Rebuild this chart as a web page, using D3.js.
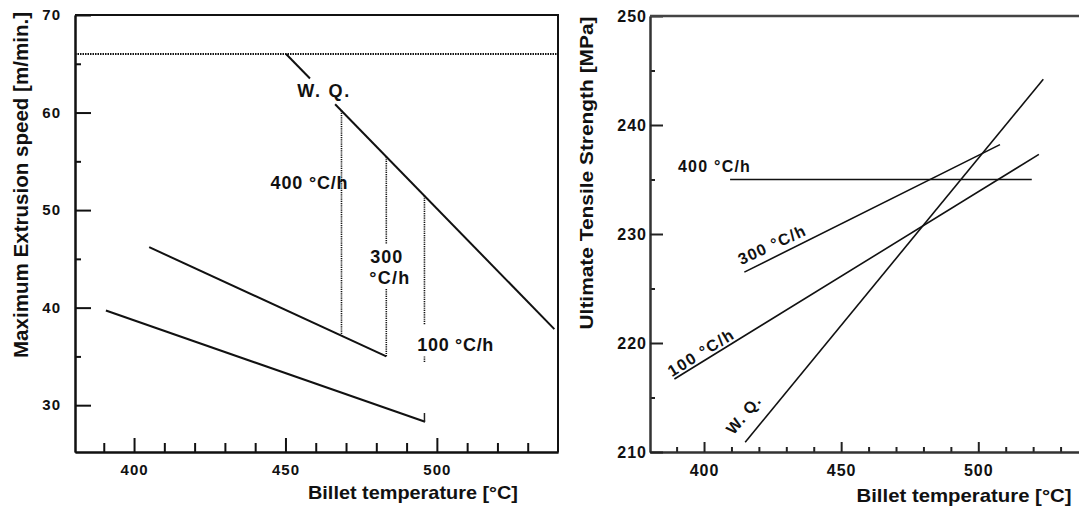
<!DOCTYPE html>
<html>
<head>
<meta charset="utf-8">
<script src="https://cdn.jsdelivr.net/npm/d3@7"></script>
<style>
  body { margin: 0; background: #fff; }
  svg { display: block; font-family: "Liberation Sans", Arial, sans-serif; }
  .axis text { font-weight: bold; fill: #111; }
  .axis-label { font-weight: bold; fill: #111; }
  .note { fill: #111; }
</style>
</head>
<body>
<svg id="chart"></svg>
<script>
// ---- data ----

// left panel: max extrusion speed vs billet temperature
const speedXTicks = [400, 450, 500];
const speedXMinor = [390, 410, 420, 430, 440, 460, 470, 480, 490, 510, 520, 530];
const speedYTicks = [30, 40, 50, 60, 70];
const speedYMinor = [35, 45, 55, 65];
const speedLimit = 66;                                  // dotted press limit
const speedWQ = [[450.2, 66.0], [538.8, 37.8]];         // W.Q. line
const speedWQGap = [458.1, 466.4];                      // break for the label
const speedLineA = [[405.0, 46.2], [483.3, 35.0]];
const speedLineB = [[390.7, 39.7], [496.1, 28.3]];
// vertical dotted drops: [temperature, from, to]
const speedDrops = [
  [468.5, 60.2, 37.1],
  [483.3, 55.5, 46.5],
  [483.3, 41.9, 35.0],
  [495.9, 51.5, 38.3],
  [495.9, 35.0, 34.4]
];
const speedEndMark = [495.9, 29.2, 28.3];
const speedNotes = [
  { text: "W. Q.", x: 462.5, y: 62.2, size: 18, len: 52 },
  { text: "400 °C/h", x: 457.8, y: 52.8, size: 18, len: 77 },
  { text: "300", x: 483.3, y: 45.2, size: 18, len: 32 },
  { text: "°C/h", x: 484.3, y: 43.1, size: 18, len: 40 },
  { text: "100 °C/h", x: 506.1, y: 36.2, size: 18, len: 76 }
];

// right panel: ultimate tensile strength vs billet temperature
const utsXTicks = [400, 450, 500];
const utsXMinor = [390, 410, 420, 430, 440, 460, 470, 480, 490, 510, 520, 530];
const utsYTicks = [210, 220, 230, 240, 250];
const utsYMinor = [215, 225, 235, 245];
const uts400 = [[409.5, 235.0], [519.5, 235.0]];
const uts300 = [[414.7, 226.5], [507.9, 238.2]];
const uts100 = [[389.2, 216.7], [522.1, 237.3]];
const utsWQ  = [[415.0, 210.9], [523.7, 244.2]];
const utsNotes = [
  { text: "400 °C/h", x: 403.6, y: 236.2, angle: 0, size: 16, len: 72 },
  { text: "300 °C/h", x: 424.6, y: 229.0, angle: -25, size: 16, len: 72 },
  { text: "100 °C/h", x: 398.7, y: 219.1, angle: -32, size: 16, len: 74 },
  { text: "W. Q.", x: 414.3, y: 213.4, angle: -50, size: 16, len: 44 }
];

const W = 1079, H = 506;
const svg = d3.select("#chart").attr("width", W).attr("height", H);

// ---------------- left panel ----------------
const xL = d3.scaleLinear().domain([380.5, 540]).range([75, 558]);
const yL = d3.scaleLinear().domain([25.2, 70]).range([452, 15]);
const left = svg.append("g");

function styleAxis(g, width) {
  g.attr("class", "axis");
  g.select(".domain").attr("stroke", "#111").attr("stroke-width", width);
  g.selectAll(".tick line").attr("stroke", "#111").attr("stroke-width", width);
}

left.append("g")
  .attr("transform", `translate(0,${yL.range()[0]})`)
  .call(d3.axisBottom(xL).tickValues(speedXMinor).tickSize(-9).tickSizeOuter(0).tickFormat(""))
  .call(g => styleAxis(g, 2));
left.append("g")
  .attr("transform", `translate(0,${yL.range()[0]})`)
  .call(d3.axisBottom(xL).tickValues(speedXTicks).tickSize(-14).tickSizeOuter(0).tickPadding(12))
  .call(g => styleAxis(g, 2))
  .selectAll("text").style("font-size", "15px").attr("letter-spacing", "1");

left.append("g")
  .attr("transform", `translate(${xL.range()[0]},0)`)
  .call(d3.axisLeft(yL).tickValues(speedYMinor).tickSize(-6).tickSizeOuter(0).tickFormat(""))
  .call(g => styleAxis(g, 2));
left.append("g")
  .attr("transform", `translate(${xL.range()[0]},0)`)
  .call(d3.axisLeft(yL).tickValues(speedYTicks).tickSize(-16).tickSizeOuter(0).tickPadding(14))
  .call(g => styleAxis(g, 2))
  .selectAll("text").style("font-size", "15px").attr("letter-spacing", "1");

// top and right frame
left.append("path")
  .attr("d", `M${xL.range()[0]},${yL.range()[1]}H${xL.range()[1]}V${yL.range()[0]}`)
  .attr("fill", "none").attr("stroke", "#111").attr("stroke-width", 2);

const lineL = d3.line().x(d => xL(d[0])).y(d => yL(d[1]));

// press limit
left.append("line")
  .attr("x1", xL.range()[0]).attr("x2", xL.range()[1])
  .attr("y1", yL(speedLimit)).attr("y2", yL(speedLimit))
  .attr("stroke", "#111").attr("stroke-width", 2).attr("stroke-dasharray", "1.5,1");

// W.Q. line split round its label
const wqAt = t => speedWQ[0][1] + (t - speedWQ[0][0]) * (speedWQ[1][1] - speedWQ[0][1]) / (speedWQ[1][0] - speedWQ[0][0]);
left.append("path").attr("d", lineL([speedWQ[0], [speedWQGap[0], wqAt(speedWQGap[0])]]))
  .attr("fill", "none").attr("stroke", "#111").attr("stroke-width", 2);
left.append("path").attr("d", lineL([[speedWQGap[1], wqAt(speedWQGap[1])], speedWQ[1]]))
  .attr("fill", "none").attr("stroke", "#111").attr("stroke-width", 2);

[speedLineA, speedLineB].forEach(s => {
  left.append("path").attr("d", lineL(s))
    .attr("fill", "none").attr("stroke", "#111").attr("stroke-width", 2);
});

left.selectAll(".drop")
  .data(speedDrops)
  .enter().append("line")
  .attr("class", "drop")
  .attr("x1", d => xL(d[0])).attr("x2", d => xL(d[0]))
  .attr("y1", d => yL(d[1])).attr("y2", d => yL(d[2]))
  .attr("stroke", "#111").attr("stroke-width", 1.6).attr("stroke-dasharray", "1.2,1");

left.append("line")
  .attr("x1", xL(speedEndMark[0])).attr("x2", xL(speedEndMark[0]))
  .attr("y1", yL(speedEndMark[1])).attr("y2", yL(speedEndMark[2]))
  .attr("stroke", "#222").attr("stroke-width", 1.5);

left.selectAll(".note")
  .data(speedNotes)
  .enter().append("text")
  .attr("class", "note")
  .attr("x", d => xL(d.x)).attr("y", d => yL(d.y))
  .attr("dy", "0.35em")
  .attr("text-anchor", "middle")
  .style("font-size", d => d.size + "px")
  .style("font-weight", "bold")
  .attr("textLength", d => d.len)
  .attr("lengthAdjust", "spacing")
  .text(d => d.text);

left.append("text")
  .attr("class", "axis-label")
  .attr("transform", "translate(21,185) rotate(-90)")
  .attr("dy", "0.35em")
  .attr("text-anchor", "middle")
  .style("font-size", "20px")
  .attr("textLength", 346).attr("lengthAdjust", "spacingAndGlyphs")
  .text("Maximum Extrusion speed [m/min.]");

left.append("text")
  .attr("class", "axis-label")
  .attr("x", 413).attr("y", 492)
  .attr("dy", "0.35em")
  .attr("text-anchor", "middle")
  .style("font-size", "19px")
  .attr("textLength", 210).attr("lengthAdjust", "spacingAndGlyphs")
  .text("Billet temperature [°C]");

// ---------------- right panel ----------------
const xR = d3.scaleLinear().domain([380.3, 540]).range([650, 1088]);
const yR = d3.scaleLinear().domain([210, 250]).range([452, 16]);
const right = svg.append("g");

function styleAxisR(g, width) {
  g.attr("class", "axis");
  g.select(".domain").attr("stroke", "#333").attr("stroke-width", width);
  g.selectAll(".tick line").attr("stroke", "#222").attr("stroke-width", width);
}

right.append("g")
  .attr("transform", `translate(0,${yR.range()[0]})`)
  .call(d3.axisBottom(xR).tickValues(utsXMinor).tickSize(-5).tickSizeOuter(0).tickFormat(""))
  .call(g => styleAxisR(g, 2));
right.append("g")
  .attr("transform", `translate(0,${yR.range()[0]})`)
  .call(d3.axisBottom(xR).tickValues(utsXTicks).tickSize(-10).tickSizeOuter(0).tickPadding(13))
  .call(g => styleAxisR(g, 2))
  .selectAll("text").style("font-size", "16px").attr("letter-spacing", "1");

right.append("g")
  .attr("transform", `translate(${xR.range()[0]},0)`)
  .call(d3.axisLeft(yR).tickValues(utsYMinor).tickSize(-5).tickSizeOuter(0).tickFormat(""))
  .call(g => styleAxisR(g, 2));
right.append("g")
  .attr("transform", `translate(${xR.range()[0]},0)`)
  .call(d3.axisLeft(yR).tickValues(utsYTicks).tickSize(-13).tickSizeOuter(0).tickPadding(3))
  .call(g => styleAxisR(g, 2))
  .selectAll("text").style("font-size", "16px").attr("letter-spacing", "1");

right.append("line")
  .attr("x1", xR.range()[0]).attr("x2", xR.range()[1])
  .attr("y1", yR.range()[1]).attr("y2", yR.range()[1])
  .attr("stroke", "#444").attr("stroke-width", 2.5);

const lineR = d3.line().x(d => xR(d[0])).y(d => yR(d[1]));
[uts400, uts300, uts100, utsWQ].forEach(s => {
  right.append("path").attr("d", lineR(s))
    .attr("fill", "none").attr("stroke", "#111").attr("stroke-width", 1.6);
});

right.selectAll(".note")
  .data(utsNotes)
  .enter().append("text")
  .attr("class", "note")
  .attr("transform", d => `translate(${xR(d.x)},${yR(d.y)}) rotate(${d.angle})`)
  .attr("dy", "0.35em")
  .attr("text-anchor", "middle")
  .style("font-size", d => d.size + "px")
  .style("font-weight", "bold")
  .attr("textLength", d => d.len)
  .attr("lengthAdjust", "spacing")
  .text(d => d.text);

right.append("text")
  .attr("class", "axis-label")
  .attr("transform", "translate(587,173) rotate(-90)")
  .attr("dy", "0.35em")
  .attr("text-anchor", "middle")
  .style("font-size", "18px")
  .attr("textLength", 313).attr("lengthAdjust", "spacingAndGlyphs")
  .text("Ultimate Tensile Strength [MPa]");

right.append("text")
  .attr("class", "axis-label")
  .attr("x", 964).attr("y", 495)
  .attr("dy", "0.35em")
  .attr("text-anchor", "middle")
  .style("font-size", "19px")
  .attr("textLength", 215).attr("lengthAdjust", "spacingAndGlyphs")
  .text("Billet temperature [°C]");
</script>
</body>
</html>
